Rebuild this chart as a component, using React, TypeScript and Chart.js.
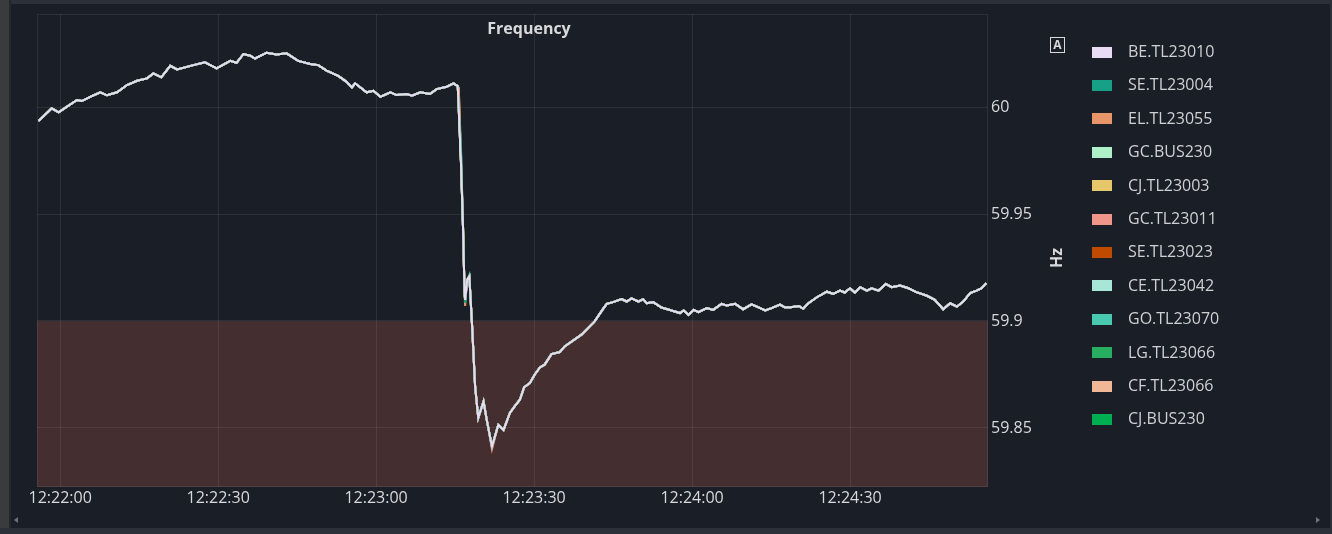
import React, { useEffect, useRef } from "react";
import { Chart, registerables } from "chart.js";
Chart.register(...registerables);

const SERIES_NAMES = [
  "BE.TL23010", "SE.TL23004", "EL.TL23055", "GC.BUS230", "CJ.TL23003", "GC.TL23011",
  "SE.TL23023", "CE.TL23042", "GO.TL23070", "LG.TL23066", "CF.TL23066", "CJ.BUS230",
];
const SERIES_COLORS = [
  "#e8dcf5", "#16a085", "#e8956a", "#b0f0c8", "#e6c86a", "#f1948a",
  "#c04a00", "#a8e6d8", "#48c9b0", "#27ae60", "#f0b896", "#00b050",
];

// seconds after 12:22:00
const TIMES = [
  -4.1, -1.6, -0.3, 1.3, 3.2, 4.1, 5.7, 7.6, 8.9, 10.8, 12.7, 14.6, 16.5, 17.7, 19.2, 20.9, 22.2,
  25.3, 27.5, 29.7, 32.3, 33.5, 34.8, 36.1, 37.0, 39.2, 41.1, 43.0, 45.2, 47.5, 49.0, 50.6, 52.8,
  54.4, 55.4, 56.0, 58.2, 59.5, 60.8, 62.7, 63.9, 65.8, 66.8, 68.4, 70.2, 71.5, 73.4, 74.7, 75.5,
  75.7, 76.1, 76.5, 76.8, 76.9, 77.3, 77.7, 78.2, 78.8, 79.4, 80.4, 81.0, 82.0, 83.2, 84.2, 85.4,
  86.3, 87.3, 88.1, 89.2, 90.1, 91.1, 92.0, 93.3, 94.9, 95.8, 99.0, 101.5, 103.2, 103.8, 105.0,
  106.6, 107.6, 108.5, 109.8, 110.7, 111.4, 112.6, 114.2, 116.1, 117.7, 118.4, 119.3, 120.3, 121.2,
  122.8, 124.0, 125.6, 126.6, 128.2, 129.7, 131.3, 132.3, 133.9, 135.1, 136.7, 137.6, 138.7, 140.3,
  141.1, 142.1, 143.7, 145.6, 146.8, 148.1, 149.0, 150.0, 150.9, 151.9, 153.2, 154.1, 155.4, 156.8,
  157.9, 159.5, 161.1, 162.6, 164.6, 166.1, 167.7, 169.0, 170.3, 171.5, 172.8, 174.0, 175.0, 175.9,
];
const FREQ = [
  59.9935, 59.9994, 59.9975, 60.0002, 60.0033, 60.0028, 60.0048, 60.0069, 60.0055, 60.0069, 60.0103,
  60.0123, 60.0134, 60.0157, 60.0139, 60.0193, 60.0176,
  60.0196, 60.0209, 60.0181, 60.0216, 60.0207, 60.0248, 60.0240, 60.0227, 60.0254, 60.0246, 60.0251,
  60.0216, 60.0201, 60.0196, 60.0170, 60.0146,
  60.0118, 60.0092, 60.0111, 60.0069, 60.0076, 60.0048, 60.0069, 60.0056, 60.0061, 60.0053, 60.0069,
  60.0061, 60.0084, 60.0095, 60.0111, 60.0098,
  59.9986, 59.9752, 59.9441, 59.9130, 59.9099, 59.9192, 59.9208, 59.8990, 59.8694, 59.8547, 59.8624,
  59.8539, 59.8413, 59.8514, 59.8491, 59.8570,
  59.8601, 59.8632, 59.8690, 59.8710, 59.8749, 59.8783, 59.8796, 59.8845, 59.8855, 59.8881, 59.8936,
  59.8998, 59.9060, 59.9080, 59.9088,
  59.9102, 59.9091, 59.9106, 59.9091, 59.9102, 59.9083, 59.9088, 59.9063, 59.9049, 59.9037, 59.9049,
  59.9029, 59.9052, 59.9041,
  59.9060, 59.9052, 59.9080, 59.9072, 59.9080, 59.9055, 59.9078, 59.9067, 59.9049, 59.9060, 59.9077,
  59.9064, 59.9064, 59.9070,
  59.9057, 59.9083, 59.9111, 59.9137, 59.9127, 59.9142, 59.9133, 59.9153, 59.9133, 59.9158, 59.9142,
  59.9153, 59.9142, 59.9173,
  59.9158, 59.9166, 59.9153, 59.9135, 59.9118, 59.9099, 59.9055, 59.9083, 59.9067, 59.9091, 59.9130,
  59.9142, 59.9153, 59.9177,
];

// small deviations of some stations during the drop: [seconds, Hz]
const SE_TL23004_DEV: [number, number][] = [[76.1, 59.983], [76.9, 59.9085]];
const EL_TL23055_DEV: [number, number][] = [[75.7, 60.0085], [76.1, 59.98], [76.9, 59.907], [82.0, 59.84]];
const CJ_TL23003_DEV: [number, number][] = [[75.7, 60.009]];
const GO_TL23070_DEV: [number, number][] = [[76.1, 59.9815], [77.7, 59.9215]];
const DEVIATIONS: Record<string, [number, number][]> = {
  "SE.TL23004": SE_TL23004_DEV,
  "EL.TL23055": EL_TL23055_DEV,
  "CJ.TL23003": CJ_TL23003_DEV,
  "GO.TL23070": GO_TL23070_DEV,
};

const X_TICKS = [0, 30, 60, 90, 120, 150];
const X_TICK_LABELS = ["12:22:00", "12:22:30", "12:23:00", "12:23:30", "12:24:00", "12:24:30"];
const Y_TICKS = [59.85, 59.9, 59.95, 60];
const Y_TICK_LABELS = ["59.85", "59.9", "59.95", "60"];
const X_MIN = -4.4;
const X_MAX = 176.2;
const Y_MIN = 59.8224;
const Y_MAX = 60.0435;
const LOW_LIMIT = 59.9;

const TITLE = "Frequency";
const UNIT = "Hz";

const FONT = "'Open Sans', 'DejaVu Sans', sans-serif";
const TEXT = "#d8d9da";
const GRID = "rgba(204,204,220,0.10)";
const BG = "#1a1f27";

export default function App() {
  const ref = useRef<HTMLCanvasElement | null>(null);
  useEffect(() => {
    if (!ref.current) return;
    const datasets = SERIES_NAMES.map((name, si) => {
      const dev = new Map((DEVIATIONS[name] || []).map(([t, v]) => [t, v]));
      return {
        label: name,
        data: TIMES.map((t, i) => ({ x: t, y: dev.has(t) ? (dev.get(t) as number) : FREQ[i] })),
        borderColor: SERIES_COLORS[si],
        backgroundColor: SERIES_COLORS[si],
        borderWidth: 2,
        pointRadius: 0,
        tension: 0,
        fill: false,
      };
    });

    const bandPlugin = {
      id: "band",
      beforeDraw(chart: any) {
        const { ctx, chartArea, scales } = chart;
        const y0 = scales.y.getPixelForValue(LOW_LIMIT);
        ctx.save();
        ctx.fillStyle = "#452e2f";
        ctx.fillRect(chartArea.left, y0, chartArea.right - chartArea.left, chartArea.bottom - y0);
        ctx.restore();
      },
      beforeDatasetsDraw(chart: any) {
        const { ctx, chartArea } = chart;
        ctx.save();
        ctx.strokeStyle = GRID;
        ctx.lineWidth = 1;
        ctx.strokeRect(chartArea.left + 0.5, chartArea.top + 0.5, chartArea.right - chartArea.left - 1, chartArea.bottom - chartArea.top - 1);
        ctx.restore();
      },
      afterDraw(chart: any) {
        const { ctx } = chart;
        ctx.save();
        // title
        ctx.fillStyle = TEXT;
        ctx.font = `bold 16px ${FONT}`;
        ctx.textAlign = "center";
        ctx.textBaseline = "middle";
        ctx.fillText(TITLE, 529, 29);
        // "A" badge
        ctx.strokeStyle = "#d8d9da";
        ctx.lineWidth = 1;
        ctx.strokeRect(1050.5, 37.5, 14, 15);
        ctx.font = `bold 12px ${FONT}`;
        ctx.fillText("A", 1057.5, 45.5);
        // unit
        ctx.save();
        ctx.translate(1057.5, 258);
        ctx.rotate(-Math.PI / 2);
        ctx.font = `bold 16px ${FONT}`;
        ctx.fillText(UNIT, 0, 0);
        ctx.restore();
        // legend
        ctx.textAlign = "left";
        ctx.font = `16px ${FONT}`;
        chart.data.datasets.forEach((ds: any, i: number) => {
          const cy = 52 + i * 33.4;
          ctx.fillStyle = ds.borderColor;
          ctx.fillRect(1092, Math.round(cy - 5.5), 20, 11);
          ctx.fillStyle = "#cfd0d3";
          ctx.fillText(ds.label, 1128, cy + 0.5);
        });
        ctx.restore();
      },
    };

    const chart = new Chart(ref.current, {
      type: "line",
      data: { datasets: datasets as any },
      options: {
        animation: false,
        responsive: false,
        maintainAspectRatio: false,
        layout: { padding: { left: 37, top: 14, right: 284, bottom: 22 } },
        plugins: { legend: { display: false }, tooltip: { enabled: false }, title: { display: false } },
        scales: {
          x: {
            type: "linear",
            min: X_MIN,
            max: X_MAX,
            afterBuildTicks: (s: any) => { s.ticks = X_TICKS.map((v) => ({ value: v })); },
            afterFit: (s: any) => { s.height = 25; },
            ticks: {
              autoSkip: false,
              maxRotation: 0,
              padding: 2,
              color: TEXT,
              font: { family: FONT, size: 16 },
              callback: (_v: any, i: number) => X_TICK_LABELS[i],
            },
            grid: { color: GRID, drawTicks: false },
            border: { display: false },
          },
          y: {
            type: "linear",
            position: "right",
            min: Y_MIN,
            max: Y_MAX,
            afterBuildTicks: (s: any) => { s.ticks = Y_TICKS.map((v) => ({ value: v })); },
            afterFit: (s: any) => { s.width = 60; },
            ticks: {
              padding: 3,
              color: TEXT,
              font: { family: FONT, size: 16 },
              callback: (_v: any, i: number) => Y_TICK_LABELS[i],
            },
            grid: { color: GRID, drawTicks: false },
            border: { display: false },
          },
        },
      } as any,
      plugins: [bandPlugin],
    });
    return () => chart.destroy();
  }, []);

  const tri = (left: number, dir: "l" | "r") => (
    <div
      style={{
        position: "absolute", left, top: 517, width: 0, height: 0,
        borderTop: "3px solid transparent", borderBottom: "3px solid transparent",
        ...(dir === "l" ? { borderRight: "4px solid #6f737a" } : { borderLeft: "4px solid #6f737a" }),
      }}
    />
  );

  return (
    <div style={{ position: "fixed", left: 0, top: 0, width: 1332, height: 534, overflow: "hidden", background: BG }}>
      <div style={{ position: "absolute", left: 0, top: 0, width: 1332, height: 4, background: "#2c3038" }} />
      <div style={{ position: "absolute", left: 0, top: 0, width: 9, height: 534, background: "#3a3b3d" }} />
      <div style={{ position: "absolute", left: 9, top: 0, width: 2, height: 534, background: "#24272c" }} />
      <div style={{ position: "absolute", left: 0, top: 528, width: 1332, height: 6, background: "#2c3038" }} />
      <div style={{ position: "absolute", left: 1330, top: 0, width: 2, height: 534, background: "#2c3038" }} />
      {tri(14, "l")}
      {tri(1316, "r")}
      <canvas ref={ref} width={1332} height={534} style={{ position: "absolute", left: 0, top: 0, display: "block" }} />
    </div>
  );
}
